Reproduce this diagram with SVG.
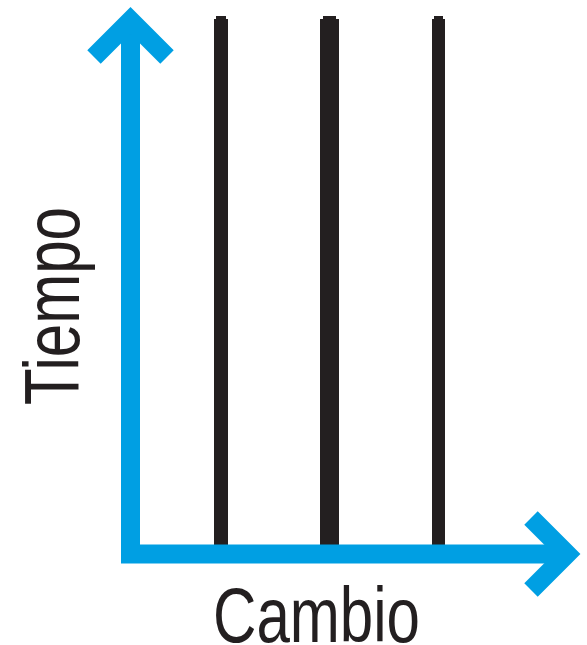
<svg xmlns="http://www.w3.org/2000/svg" width="587" height="645" viewBox="0 0 587 645">
<style>
.axis{stroke:#009fe3;stroke-width:19;fill:none;stroke-linejoin:miter;stroke-miterlimit:10}
.bar{fill:#231f20}
.lbl{font-family:"Liberation Sans",Arial,sans-serif;font-size:77px;fill:#231f20}
</style>
<rect width="587" height="645" fill="#fff"/>
<g id="connectors">
<g id="lines">
<rect class="bar" x="214" y="19" width="14" height="527"/>
<rect class="bar" x="216" y="16" width="10" height="4"/>
<rect class="bar" x="320" y="19" width="19" height="527"/>
<rect class="bar" x="323" y="16" width="13" height="4"/>
<rect class="bar" x="432" y="19" width="13" height="527"/>
<rect class="bar" x="434" y="16" width="9" height="4"/>
</g>
<g id="y-axis">
<line class="axis" x1="130.5" y1="20" x2="130.5" y2="563"/>
<polyline class="axis" points="94,57 130.5,20.5 167,57"/>
</g>
<g id="x-axis">
<line class="axis" x1="121" y1="554" x2="567" y2="554"/>
<polyline class="axis" points="531,518 567,554 531,590"/>
</g>
</g>
<g id="label-tiempo">
<text class="lbl" transform="translate(79,405) rotate(-90)" textLength="198" lengthAdjust="spacingAndGlyphs">Tiempo</text>
</g>
<g id="label-cambio">
<text class="lbl" x="213" y="642" textLength="207" lengthAdjust="spacingAndGlyphs">Cambio</text>
</g>
</svg>
